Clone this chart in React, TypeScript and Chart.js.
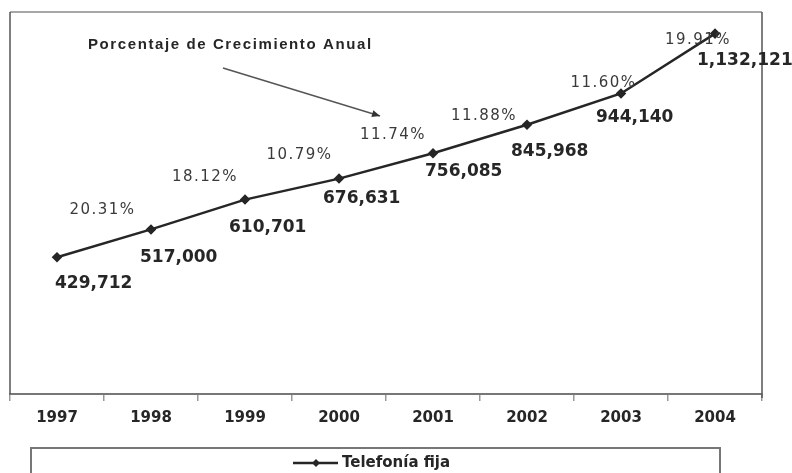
import React, { useEffect, useRef } from 'react';
import { Chart, registerables } from 'chart.js';

Chart.register(...registerables);

// ---- data ----
const years = ['1997', '1998', '1999', '2000', '2001', '2002', '2003', '2004'];
const lineasFijas = [429712, 517000, 610701, 676631, 756085, 845968, 944140, 1132121];
const valueLabels = ['429,712', '517,000', '610,701', '676,631', '756,085', '845,968', '944,140', '1,132,121'];
const growthLabels = ['20.31%', '18.12%', '10.79%', '11.74%', '11.88%', '11.60%', '19.91%'];
const seriesName = 'Telefonía fija';
const annotationText = 'Porcentaje de Crecimiento Anual';
const yMin = 0;
const yMax = 1200000;

// ---- layout nudges for the labels (style, not data) ----
const valueLabelNudge: [number, number][] = [
  [-2, 26], [-11, 28], [-16, 28], [-16, 20], [-8, 18], [-16, 27], [-25, 24], [-18, 27],
];
const growthLabelNudge: [number, number][] = [
  [-1.5, -33.5], [7, -37], [7.5, -33.5], [7, -31], [4, -23], [29.5, -26], [30, -23],
];

const INK = '#262626';

const decorPlugin = {
  id: 'decor',
  beforeDatasetsDraw(chart: any) {
    const { ctx, chartArea } = chart;
    const { left, right, top, bottom } = chartArea;
    ctx.save();
    // frame
    ctx.lineWidth = 1.5;
    ctx.strokeStyle = '#8a8a8a';
    ctx.beginPath();
    ctx.moveTo(left, top);
    ctx.lineTo(right, top);
    ctx.stroke();
    ctx.strokeStyle = '#555';
    ctx.lineWidth = 1.5;
    ctx.beginPath();
    ctx.moveTo(left, top);
    ctx.lineTo(left, bottom);
    ctx.moveTo(right, top);
    ctx.lineTo(right, bottom + 4);
    ctx.stroke();
    ctx.restore();
  },
  afterDatasetsDraw(chart: any) {
    const { ctx } = chart;
    const meta = chart.getDatasetMeta(0);
    const pts = meta.data;
    ctx.save();
    // value labels
    ctx.font = 'bold 17px "DejaVu Sans"';
    ctx.fillStyle = INK;
    ctx.textAlign = 'left';
    ctx.textBaseline = 'middle';
    pts.forEach((p: any, i: number) => {
      const [dx, dy] = valueLabelNudge[i];
      ctx.fillText(valueLabels[i], p.x + dx, p.y + dy);
    });
    // growth labels
    ctx.font = '15px "DejaVu Sans"';
    (ctx as any).letterSpacing = '1.5px';
    ctx.fillStyle = '#3a3a3a';
    ctx.textAlign = 'center';
    growthLabels.forEach((t, i) => {
      const a = pts[i];
      const b = pts[i + 1];
      const [dx, dy] = growthLabelNudge[i];
      ctx.fillText(t, (a.x + b.x) / 2 + dx, (a.y + b.y) / 2 + dy);
    });
    // annotation title
    ctx.font = 'bold 15px "Liberation Sans"';
    (ctx as any).letterSpacing = '1.6px';
    ctx.fillStyle = INK;
    ctx.textAlign = 'left';
    ctx.fillText(annotationText, 88, 45);
    (ctx as any).letterSpacing = '0px';
    // arrow
    const x1 = 223, y1 = 68, x2 = 380, y2 = 116;
    ctx.strokeStyle = '#555';
    ctx.lineWidth = 1.5;
    ctx.beginPath();
    ctx.moveTo(x1, y1);
    ctx.lineTo(x2, y2);
    ctx.stroke();
    const ang = Math.atan2(y2 - y1, x2 - x1);
    ctx.fillStyle = '#333';
    ctx.beginPath();
    ctx.moveTo(x2, y2);
    ctx.lineTo(x2 - 8 * Math.cos(ang) + 3.5 * Math.sin(ang), y2 - 8 * Math.sin(ang) - 3.5 * Math.cos(ang));
    ctx.lineTo(x2 - 8 * Math.cos(ang) - 3.5 * Math.sin(ang), y2 - 8 * Math.sin(ang) + 3.5 * Math.cos(ang));
    ctx.closePath();
    ctx.fill();

    // legend
    ctx.strokeStyle = '#777';
    ctx.lineWidth = 2;
    ctx.strokeRect(31, 448, 689, 40);
    const ly = 463;
    ctx.strokeStyle = INK;
    ctx.lineWidth = 2.5;
    ctx.beginPath();
    ctx.moveTo(293, ly);
    ctx.lineTo(338, ly);
    ctx.stroke();
    ctx.fillStyle = INK;
    ctx.beginPath();
    ctx.moveTo(316, ly - 4);
    ctx.lineTo(320, ly);
    ctx.lineTo(316, ly + 4);
    ctx.lineTo(312, ly);
    ctx.closePath();
    ctx.fill();
    ctx.font = 'bold 15px "DejaVu Sans"';
    ctx.textBaseline = 'middle';
    ctx.fillText(chart.data.datasets[0].label, 342, ly);
    ctx.restore();
  },
};

export default function App() {
  const ref = useRef<HTMLCanvasElement | null>(null);
  useEffect(() => {
    if (!ref.current) return;
    const chart = new Chart(ref.current, {
      type: 'line',
      data: {
        labels: years,
        datasets: [
          {
            label: seriesName,
            data: lineasFijas,
            borderColor: INK,
            backgroundColor: INK,
            borderWidth: 2.5,
            pointStyle: 'rectRot',
            pointRadius: 3.5,
            pointBackgroundColor: INK,
            pointBorderColor: INK,
            tension: 0,
          },
        ],
      },
      options: {
        responsive: false,
        animation: false,
        layout: { padding: { left: 10, right: 30, top: 12, bottom: 38 } },
        plugins: {
          legend: { display: false },
          tooltip: { enabled: false },
        },
        scales: {
          x: {
            offset: true,
            grid: {
              offset: true,
              drawOnChartArea: false,
              drawTicks: true,
              tickLength: 7,
              color: '#999',
              lineWidth: 1.5,
            },
            border: { display: true, color: '#777', width: 2 },
            ticks: {
              color: INK,
              padding: 8,
              font: { family: '"DejaVu Sans"', size: 15, weight: 'bold' },
            },
          },
          y: {
            display: false,
            min: yMin,
            max: yMax,
          },
        },
      },
      plugins: [decorPlugin],
    });
    return () => chart.destroy();
  }, []);
  return (
    <div style={{ position: 'absolute', left: 0, top: 0, width: 792, height: 473, background: '#fff' }}>
      <canvas ref={ref} width={792} height={473} />
    </div>
  );
}
